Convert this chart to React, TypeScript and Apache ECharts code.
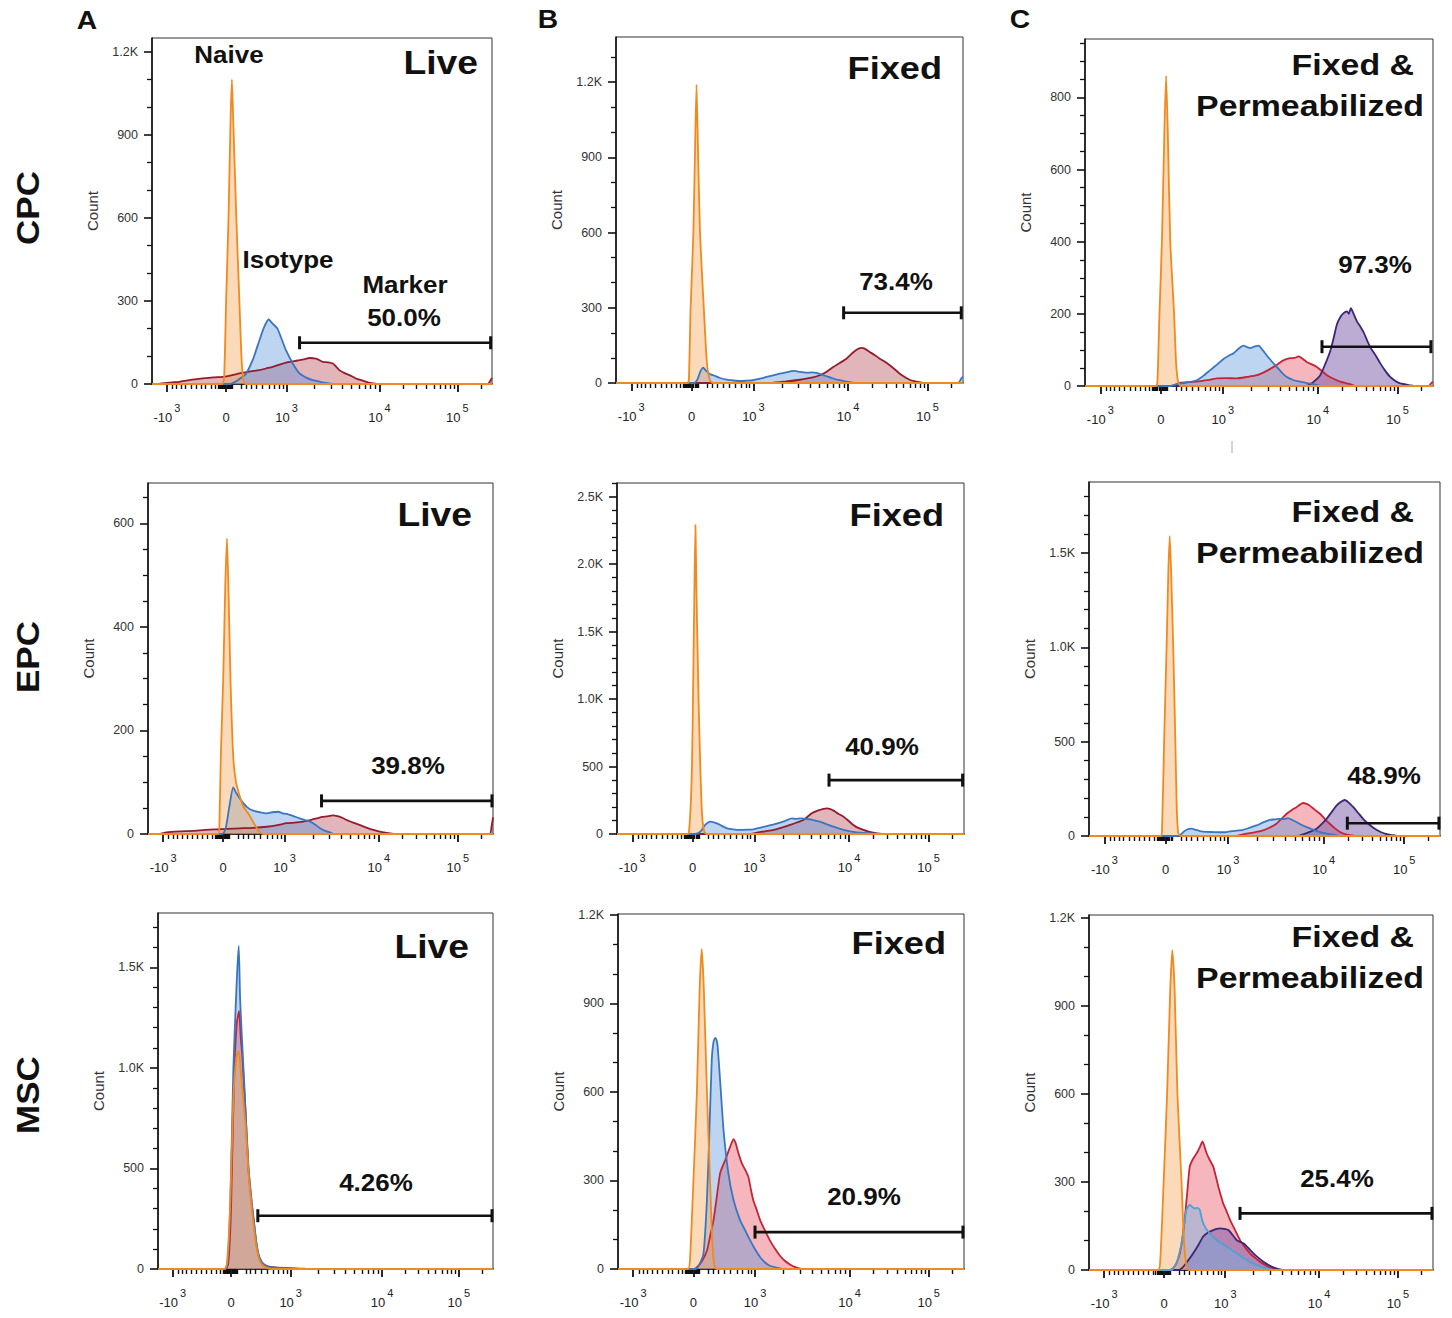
import React, { useEffect, useRef } from 'react';
import * as echarts from 'echarts';

const FONT = "'Liberation Sans', Arial, Helvetica, sans-serif";

// ---------- x axis (biexponential display units, 0..100 of the plot width) ----------
const xTickValues = [4.4, 21.8, 39.6, 66.9, 89.8];
const xTickBase = ['-10', '0', '10', '10', '10'];
const xTickExp = ['3', '', '3', '4', '5'];
const xMinorNegative = [6.0, 7.2, 8.5, 9.9, 11.4, 12.9, 14.4, 15.8, 17.3, 18.6];
const xMinorNearZero = [19.4, 19.7, 20.0, 20.3, 20.6, 20.9, 21.2, 21.5, 22.1, 22.4, 22.7, 23.0, 23.3, 23.6];
const xMinorPositive = [26.2, 27.6, 29.1, 30.8, 32.5, 34.5, 36.0, 37.5, 38.5];

// ---------- y axes ----------
const yMaxes = [1250, 1380, 962, 678, 2600, 1877, 1770, 1203, 1210];
const yMajorSteps = [300, 300, 200, 200, 500, 500, 500, 300, 300];
const yMinorSteps = [100, 100, 50, 50, 100, 100, 100, 100, 100];

// ---------- gates ----------
const gateStart = [43.4, 65.6, 68.1, 50.3, 61.1, 73.6, 29.8, 39.6, 43.9];
const gateEnd = [99.6, 99.5, 99.4, 99.7, 99.6, 99.7, 99.7, 99.7, 99.7];
const gateLevel = [149, 280, 109, 64, 399, 68, 265, 125, 193];
const gatePercent = ['50.0%', '73.4%', '97.3%', '39.8%', '40.9%', '48.9%', '4.26%', '20.9%', '25.4%'];

// ---------- histograms: [display x, count] ----------
// Row 1 : CPC
const cpcLiveMarker = [[0,0],[2,0],[3.5,3],[6,6],[8,8],[11,14],[14.9,20],[18,24],[20.8,26],[23,30],[25.7,38],[28.5,45],[31.6,50],[33.5,56],[35.5,62],[37.5,70],[39.4,77],[41.5,82],[43.4,86],[45,90],[46.3,94],[47.5,93],[48.3,92],[49.3,86],[50.2,80],[51.8,78],[53.2,74],[54.2,62],[55.1,50],[56.5,40],[58.1,32],[60,20],[62,12],[63.5,6],[65,2],[66,0],[98.8,0],[99.5,12],[100,22]];
const cpcLiveIsotype = [[0,0],[23,0],[25,12],[26.5,25],[27.7,38],[29.6,86],[31.6,158],[33.0,206],[34.3,233],[35.5,218],[36.9,200],[38.2,160],[39.4,122],[41.4,74],[43.4,38],[45.5,22],[47.3,14],[49.5,8],[51.2,4],[53,0],[100,0]];
const cpcLiveNaive = [[0,0],[20.6,0],[21.2,20],[21.8,300],[22.5,600],[23.1,950],[23.5,1100],[23.9,950],[24.8,600],[25.7,300],[26.3,100],[26.8,20],[27.5,0],[100,0]];

const cpcFixedMarker = [[0,0],[44,0],[45.3,1],[49,6],[53,13],[56,20],[58.7,31],[60.7,45],[62.6,64],[64.5,80],[66.4,97],[68,118],[69.3,133],[70.7,140],[71.8,136],[73.1,124],[74.5,112],[76,97],[77.5,85],[78.9,71],[80.3,55],[81.8,37],[83.2,24],[84.6,13],[86,7],[87.5,3],[89,0],[100,0]];
const cpcFixedIsotype = [[0,0],[22.5,0],[23.5,15],[24.3,45],[25.1,61],[26,48],[27,36],[28,31],[30,20],[31.9,13],[33.8,10],[35.7,8],[37.5,9],[39.5,11],[41.5,17],[43.4,24],[45.3,30],[47.2,37],[49.3,43],[50.5,47],[51.5,48],[53,44],[54.9,41],[56.5,42],[57.8,40],[59.2,34],[60.7,27],[62.6,18],[64.5,11],[66,6],[67.4,3],[69,0],[98.6,0],[99.5,18],[100,26]];
const cpcFixedNaive = [[0,0],[20.6,0],[21.0,15],[21.5,300],[22.3,600],[22.8,950],[23.2,1190],[23.6,950],[24.2,600],[25.3,300],[26.2,80],[27.1,10],[28,0],[100,0]];

const cpcPermMarker = [[0,0],[25,0],[27.3,9],[30,11],[32.1,12],[35,16],[37.9,21],[40.7,22],[43.6,21],[46.5,25],[49.4,30],[51.8,40],[54.2,53],[55.6,62],[57,71],[58.9,77],[60.2,78],[61.4,82],[62.6,75],[63.8,66],[65.2,60],[66.6,53],[68,42],[69.5,30],[71.4,20],[73.3,12],[76.2,5],[78,0],[98.8,0],[99.5,8],[100,12]];
const cpcPermStained = [[0,0],[63.5,0],[64.7,5],[66,14],[67.6,30],[69,60],[70.5,98],[71.5,135],[72.4,171],[73.3,190],[74.3,202],[75.3,207],[75.8,200],[76.4,216],[77.2,200],[78.1,180],[79.1,165],[80.1,148],[81,128],[82,107],[83.5,85],[84.9,62],[86.3,42],[87.7,25],[89.2,14],[90.6,7],[93.5,2],[95,0],[100,0]];
const cpcPermIsotype = [[0,0],[24.5,0],[26.4,5],[29,9],[32.1,16],[34,28],[36,44],[38,60],[39.8,75],[41.3,84],[42.7,91],[44.2,104],[45.5,112],[46.5,108],[47.5,105],[48.8,110],[49.9,112],[51,100],[52.3,84],[53.7,68],[55.1,53],[56.5,38],[58,25],[60,16],[61.8,12],[63.8,8],[65.7,5],[68,0],[100,0]];
const cpcPermNaive = [[0,0],[20.4,0],[20.8,10],[21.4,200],[22.1,400],[22.8,700],[23.3,860],[23.8,700],[24.5,400],[25.6,200],[26.2,60],[26.8,10],[27.5,0],[100,0]];

// Row 2 : EPC
const epcLiveMarker = [[0,0],[3,0],[5.3,3],[9,5],[13,6],[16.5,8],[19.8,9],[23,10],[26.6,11],[30.5,12],[34.4,14],[37.5,17],[40.2,21],[42.5,22],[45,24],[47,27],[48.9,30],[50.5,33],[51.8,34],[53.5,36],[55.2,34],[56.4,31],[57.6,27],[59.5,22],[61.5,17],[63.5,12],[65.3,8],[67.5,4],[70.2,1],[72,0],[99,0],[99.6,15],[100,32]];
const epcLiveIsotype = [[0,0],[21.5,0],[22.5,10],[23.5,50],[24.7,90],[25.5,80],[27,65],[28.7,52],[30.5,45],[32.5,42],[34.4,40],[36,42],[37.8,43],[39,40],[40.2,39],[42,35],[44,30],[45.5,27],[47,24],[48.5,18],[49.9,11],[51.3,6],[52.8,3],[54,0],[100,0]];
const epcLiveNaive = [[0,0],[20.3,0],[20.7,20],[21.1,150],[21.8,300],[22.4,480],[22.9,571],[23.4,450],[23.9,300],[24.7,150],[25.5,100],[26.5,75],[27.5,55],[29.5,35],[31.2,15],[32.5,3],[33.5,0],[100,0]];

const epcFixedMarker = [[0,0],[38,0],[40.3,10],[42.7,20],[45.1,30],[47.5,47],[49.9,67],[51.8,85],[53.7,104],[55,130],[56.1,153],[57.3,168],[58.5,178],[59.5,186],[60.5,190],[61.5,184],[62.4,173],[63.8,150],[65.3,128],[66.7,98],[68.1,67],[69.5,45],[71,30],[72.5,18],[73.9,10],[75.8,2],[77,0],[100,0]];
const epcFixedIsotype = [[0,0],[22.5,0],[24,17],[25.4,67],[26.9,91],[28.8,79],[30.2,60],[31.7,42],[33.5,34],[35.5,30],[37.5,32],[39.3,35],[41.2,46],[43.2,59],[45,70],[47,84],[48.7,100],[50.4,116],[51.5,112],[52.8,116],[54.2,112],[55.7,108],[57,100],[58.5,91],[60.5,72],[62.4,54],[64.3,38],[66.2,25],[68.1,16],[70.1,10],[73.9,2],[76,0],[100,0]];
const epcFixedNaive = [[0,0],[20.4,0],[20.8,30],[21.3,250],[21.6,500],[21.9,1000],[22.3,1800],[22.6,2290],[22.9,1800],[23.5,1000],[24.0,500],[24.5,150],[25.1,20],[25.8,0],[100,0]];

const epcPermMarker = [[0,0],[42,0],[43.9,9],[46.8,18],[49.6,30],[51.5,45],[53.4,65],[54.9,92],[56.3,118],[57.7,137],[59.1,153],[60,165],[61,175],[62,170],[62.9,161],[64.3,140],[65.8,118],[67.2,90],[68.6,65],[70,42],[71.5,21],[72.9,10],[74.3,4],[76,0],[100,0]];
const epcPermStained = [[0,0],[59.5,0],[61,9],[62.9,22],[64.8,39],[66.2,62],[67.7,91],[69.1,126],[70.5,161],[71.7,180],[72.9,191],[74.1,175],[75.3,153],[76.7,122],[78.1,91],[79.5,66],[81,44],[82.4,28],[83.8,16],[85.2,8],[86.7,4],[88,0],[100,0]];
const epcPermIsotype = [[0,0],[24.5,0],[25.9,4],[26.8,20],[27.8,33],[29.2,39],[30.4,33],[31.6,26],[33.5,22],[35.4,21],[37.3,20],[39.2,21],[41.5,27],[43.9,33],[45.8,44],[47.7,56],[49.6,72],[51.5,86],[53,88],[54.4,91],[55.5,89],[56.7,95],[57.9,85],[59.1,74],[60.5,60],[62,47],[63.9,33],[65.8,21],[67.7,13],[69.6,7],[72,0],[100,0]];
const epcPermNaive = [[0,0],[20.4,0],[20.8,30],[21.4,500],[22.1,1000],[22.6,1400],[23.0,1590],[23.4,1400],[24.0,1000],[24.6,500],[25.0,150],[25.4,20],[26,0],[100,0]];

// Row 3 : MSC
const mscLiveMarker = [[0,0],[20.2,0],[21,30],[21.8,300],[22.7,950],[23.5,1220],[24.2,1283],[24.7,1150],[25.2,1050],[26,820],[27,500],[28,320],[28.5,250],[29.3,135],[30,70],[31,30],[33,12],[38,5],[43,2],[44.5,0],[100,0]];
const mscLiveIsotype = [[0,0],[20,0],[20.8,40],[21.6,340],[22.5,1000],[23.3,1350],[23.7,1500],[24.1,1606],[24.5,1350],[25,1167],[26,836],[27,505],[28,330],[28.5,257],[29.3,140],[30,75],[31,35],[32.5,15],[36,6],[40,3],[42.5,0],[100,0]];
const mscLiveNaive = [[0,0],[19.8,0],[20.6,30],[21.5,300],[22.5,850],[23.4,1050],[24.1,1084],[24.7,980],[25.4,850],[26.2,700],[27,480],[28,300],[28.8,180],[29.6,90],[30.5,35],[32,8],[34,0],[100,0]];

const mscFixedMarker = [[0,0],[22,0],[22.8,6],[24.2,25],[25.7,62],[26.6,110],[27.6,165],[28.5,240],[29.5,324],[30.3,350],[31,369],[31.7,392],[32.4,414],[33,432],[33.4,440],[33.9,430],[34.3,414],[35,385],[35.8,358],[36.8,335],[37.7,312],[38.4,270],[39.1,233],[40.1,200],[41.1,165],[42.5,130],[43.9,97],[45.3,70],[46.8,45],[48.2,28],[49.7,15],[51,7],[52.1,3],[53.5,0],[100,0]];
const mscFixedIsotype = [[0,0],[22.5,0],[23.5,15],[24.7,51],[25.7,233],[26.4,460],[27.1,710],[27.6,770],[28.1,783],[28.5,775],[28.8,755],[29.5,641],[30.5,471],[31.9,324],[33.4,233],[35.3,165],[36.8,130],[38.2,97],[39.7,65],[41.1,40],[42.5,22],[43.9,11],[46.8,2],[48,0],[100,0]];
const mscFixedNaive = [[0,0],[20.2,0],[20.8,30],[21.8,300],[22.8,600],[23.6,950],[24.2,1085],[24.8,950],[25.7,600],[26.6,300],[27.2,100],[27.8,15],[28.5,0],[100,0]];

const mscPermMarker = [[0,0],[23.5,0],[24.5,6],[25.5,25],[26.4,57],[27.2,110],[27.9,182],[28.6,270],[29.3,353],[30.3,380],[31.3,398],[32.2,418],[33,438],[33.6,420],[34.2,398],[35.1,375],[36.1,353],[36.9,318],[37.6,284],[38.3,255],[39,227],[40,200],[41,171],[42.5,135],[43.9,102],[45.3,78],[46.8,57],[48.2,42],[49.7,28],[51.2,17],[52.6,9],[54.6,2],[56,0],[100,0]];
const mscPermStained = [[0,0],[26,0],[27.4,11],[28.8,32],[30.3,57],[31.8,85],[33.2,114],[34.6,128],[36.1,136],[37.1,140],[38.1,142],[39.3,140],[40.5,136],[41.7,120],[42.9,102],[43.9,96],[44.9,91],[46.3,75],[47.8,57],[49.2,42],[50.7,28],[52.2,17],[53.6,9],[55.5,2],[57,0],[100,0]];
const mscPermIsotype = [[0,0],[24,0],[25.4,23],[26.2,55],[26.9,91],[27.6,150],[28.3,205],[29.3,222],[30,215],[30.8,210],[31.5,212],[32.2,205],[32.7,180],[33.2,159],[34.1,140],[35.1,125],[36.1,112],[37.1,102],[38.5,90],[40,80],[41.5,68],[42.9,57],[44.3,45],[45.8,34],[47.2,25],[48.7,17],[50.2,11],[51.7,6],[53.5,0],[100,0]];
const mscPermNaive = [[0,0],[20.1,0],[20.7,30],[21.7,300],[22.7,600],[23.6,950],[24.2,1090],[24.9,950],[25.7,600],[26.9,300],[27.6,100],[28.3,15],[29,0],[100,0]];

// ---------- styling ----------
const COL = {
  naive: { line: '#F08A1E', fill: 'rgba(246,168,90,0.6)' },
  iso: { line: '#3A76C0', fill: 'rgba(82,145,215,0.55)' },
  isoLight: { line: '#4FA0D5', fill: 'rgba(110,182,230,0.6)' },
  markerDark: { line: '#951B2E', fill: 'rgba(180,62,78,0.55)' },
  markerBright: { line: '#C52437', fill: 'rgba(232,82,98,0.6)' },
  purple: { line: '#3B2775', fill: 'rgba(108,72,160,0.65)' },
};

// plot boxes [left, top, width, height] in page pixels
const gridRects = [
  [152, 38, 340, 346], [616, 37, 347, 346], [1085, 39, 348, 347],
  [148, 483, 345, 351], [617, 483, 347, 351], [1089, 482, 351, 354],
  [158, 913, 335, 356], [618, 914, 346, 355], [1089, 915, 344, 355],
];

const panelCurves: [number[][], keyof typeof COL][][] = [
  [[cpcLiveMarker, 'markerDark'], [cpcLiveIsotype, 'iso'], [cpcLiveNaive, 'naive']],
  [[cpcFixedMarker, 'markerDark'], [cpcFixedIsotype, 'iso'], [cpcFixedNaive, 'naive']],
  [[cpcPermMarker, 'markerBright'], [cpcPermStained, 'purple'], [cpcPermIsotype, 'iso'], [cpcPermNaive, 'naive']],
  [[epcLiveMarker, 'markerDark'], [epcLiveIsotype, 'iso'], [epcLiveNaive, 'naive']],
  [[epcFixedMarker, 'markerDark'], [epcFixedIsotype, 'iso'], [epcFixedNaive, 'naive']],
  [[epcPermMarker, 'markerBright'], [epcPermStained, 'purple'], [epcPermIsotype, 'iso'], [epcPermNaive, 'naive']],
  [[mscLiveMarker, 'markerBright'], [mscLiveIsotype, 'iso'], [mscLiveNaive, 'naive']],
  [[mscFixedMarker, 'markerBright'], [mscFixedIsotype, 'iso'], [mscFixedNaive, 'naive']],
  [[mscPermMarker, 'markerBright'], [mscPermStained, 'purple'], [mscPermIsotype, 'isoLight'], [mscPermNaive, 'naive']],
];

function decade(lo: number, hi: number) {
  const out: number[] = [];
  for (let k = 2; k <= 9; k++) out.push(lo + (hi - lo) * Math.log10(k));
  return out;
}
const xMinorTicks = [
  ...xMinorNegative, ...xMinorNearZero, ...xMinorPositive,
  ...decade(xTickValues[2], xTickValues[3]),
  ...decade(xTickValues[3], xTickValues[4]),
  xTickValues[4] + (xTickValues[4] - xTickValues[3]) * Math.log10(2),
];

function stepsTo(max: number, step: number) {
  const out: number[] = [];
  for (let v = 0; v <= max + 1e-9; v += step) out.push(v);
  return out;
}
const fmtCount = (v: number) => (v >= 1000 ? (v / 1000).toFixed(1) + 'K' : String(v));

function buildOption() {
  const grid: any[] = [];
  const xAxis: any[] = [];
  const yAxis: any[] = [];
  const series: any[] = [];

  gridRects.forEach((r, i) => {
    grid.push({
      left: r[0], top: r[1], width: r[2], height: r[3],
      show: true, borderColor: '#333', borderWidth: 1, backgroundColor: 'transparent',
      containLabel: false, outerBoundsMode: 'none',
    });
    xAxis.push({
      type: 'value', gridIndex: i, min: 0, max: 100, position: 'bottom',
      axisLine: { show: true, onZero: false, lineStyle: { color: '#111', width: 1.6 } },
      axisTick: { show: true, customValues: xTickValues, length: 8, lineStyle: { color: '#111', width: 1.8 } },
      axisLabel: {
        show: true, customValues: xTickValues, margin: 18,
        formatter: (v: number) => {
          const j = xTickValues.findIndex((t) => Math.abs(t - v) < 0.01);
          if (j < 0) return '';
          return xTickExp[j] ? `{b|${xTickBase[j]}}{s|${xTickExp[j]}}` : `{b|${xTickBase[j]}}`;
        },
        rich: {
          b: { fontSize: 13, fontFamily: FONT, color: '#222', lineHeight: 22, verticalAlign: 'bottom' },
          s: { fontSize: 11, fontFamily: FONT, color: '#222', verticalAlign: 'top', padding: [0, 0, 0, 2] },
        },
      },
      splitLine: { show: false },
    });
    xAxis.push({
      type: 'value', gridIndex: i, min: 0, max: 100, position: 'bottom',
      axisLine: { show: false, onZero: false },
      axisTick: { show: true, customValues: xMinorTicks, length: 5, lineStyle: { color: '#111', width: 1.4 } },
      axisLabel: { show: false },
      splitLine: { show: false },
    });
    const majors = stepsTo(yMaxes[i], yMajorSteps[i]);
    const minors = stepsTo(yMaxes[i], yMinorSteps[i]).filter((v) => v % yMajorSteps[i] !== 0);
    yAxis.push({
      type: 'value', gridIndex: i, min: 0, max: yMaxes[i], position: 'left',
      axisLine: { show: true, onZero: false, lineStyle: { color: '#111', width: 1.6 } },
      axisTick: { show: true, customValues: majors, length: 8, lineStyle: { color: '#111', width: 1.6 } },
      axisLabel: { show: true, customValues: majors, margin: 14, fontSize: 12.5, color: '#333', fontFamily: FONT, formatter: fmtCount },
      splitLine: { show: false },
      name: 'Count', nameLocation: 'middle', nameRotate: 90, nameGap: 52,
      nameTextStyle: { fontSize: 15, color: '#333', fontFamily: FONT },
    });
    yAxis.push({
      type: 'value', gridIndex: i, min: 0, max: yMaxes[i], position: 'left',
      axisLine: { show: false, onZero: false },
      axisTick: { show: true, customValues: minors, length: 5, lineStyle: { color: '#111', width: 1.3 } },
      axisLabel: { show: false },
      splitLine: { show: false },
    });

    panelCurves[i].forEach(([data, key]) => {
      const c = COL[key];
      series.push({
        type: 'line', xAxisIndex: 2 * i, yAxisIndex: 2 * i, data,
        symbol: 'none', showSymbol: false, smooth: 0.2, silent: true,
        lineStyle: { color: c.line, width: 1.8 },
        areaStyle: { color: c.fill, origin: 'start' },
      });
    });

    series.push({
      type: 'line', xAxisIndex: 2 * i, yAxisIndex: 2 * i,
      data: [[gateStart[i], gateLevel[i]], [gateEnd[i], gateLevel[i]]],
      symbol: 'rect', symbolSize: [3, 13], showSymbol: true, silent: true, clip: false, z: 5,
      itemStyle: { color: '#111' },
      lineStyle: { color: '#111', width: 2.6 },
    });
  });

  const STRETCH = 1.13;
  const bold = (text: string, x: number, y: number, size: number, align = 'center', rotation = 0) => ({
    type: 'text', x, y, rotation, scaleX: STRETCH, silent: true,
    style: {
      text, fontSize: size, fontWeight: 'bold', fontFamily: FONT, fill: '#111',
      align, verticalAlign: 'middle', textAlign: align, textVerticalAlign: 'middle',
    },
  });

  const titles = [
    bold('Live', 478, 62, 33, 'right'), bold('Fixed', 942, 68, 32, 'right'),
    bold('Fixed &', 1414, 65, 30, 'right'), bold('Permeabilized', 1424, 106, 30, 'right'),
    bold('Live', 472, 514, 33, 'right'), bold('Fixed', 944, 515, 32, 'right'),
    bold('Fixed &', 1414, 512, 30, 'right'), bold('Permeabilized', 1424, 553, 30, 'right'),
    bold('Live', 469, 946, 33, 'right'), bold('Fixed', 946, 943, 32, 'right'),
    bold('Fixed &', 1414, 937, 30, 'right'), bold('Permeabilized', 1424, 978, 30, 'right'),
  ];
  const pctPos = [[404, 318], [896, 282], [1375, 265], [408, 766], [882, 747], [1384, 776], [376, 1183], [864, 1197], [1337, 1179]];
  const pcts = pctPos.map((p, i) => bold(gatePercent[i], p[0], p[1], 23));
  const notes = [
    bold('Naive', 229, 55, 23), bold('Isotype', 288, 260, 23), bold('Marker', 405, 285, 23),
    bold('A', 87, 21, 25), bold('B', 548, 20, 25), bold('C', 1020, 20, 25),
    bold('CPC', 28, 208, 31, 'center', Math.PI / 2),
    bold('EPC', 28, 657, 31, 'center', Math.PI / 2),
    bold('MSC', 28, 1095, 31, 'center', Math.PI / 2),
  ];
  const artifact = { type: 'line', silent: true, shape: { x1: 1232, y1: 441, x2: 1232, y2: 453 }, style: { stroke: '#aaa', lineWidth: 1 } };

  return {
    animation: false,
    backgroundColor: '#ffffff',
    grid, xAxis, yAxis, series,
    graphic: { elements: [...titles, ...pcts, ...notes, artifact] },
  };
}

export default function App() {
  const ref = useRef<HTMLDivElement>(null);
  useEffect(() => {
    const chart = echarts.init(ref.current!, null, { renderer: 'svg', width: 1452, height: 1318 });
    chart.setOption(buildOption() as any);
    return () => chart.dispose();
  }, []);
  return (
    <div
      ref={ref}
      style={{ position: 'absolute', left: 0, top: 0, width: 1452, height: 1318, background: '#fff' }}
    />
  );
}
